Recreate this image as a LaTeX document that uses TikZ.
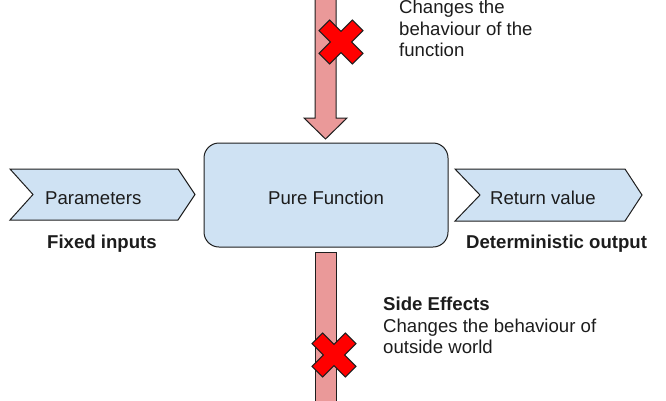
\documentclass[tikz,border=0pt]{standalone}
\usepackage{fontspec}
\setmainfont{Liberation Sans}
\definecolor{pinkfill}{HTML}{EA9999}
\definecolor{bluefill}{HTML}{CFE2F3}
\definecolor{crossred}{HTML}{FF0000}
\definecolor{edgec}{HTML}{1E1E1E}
\definecolor{textc}{HTML}{1C1C1C}
\begin{document}
\begin{tikzpicture}[x=1pt,y=-1pt,
  outline/.style={draw=edgec, line width=1pt, line join=miter},
  arrowshape/.style={outline, fill=pinkfill},
  chevron/.style={outline, fill=bluefill},
  crossshape/.style={outline, fill=crossred},
  txt/.style={inner sep=0pt, anchor=base west, text=textc, font=\fontsize{18.6}{22}\selectfont},
  btxt/.style={txt, font=\fontsize{18.6}{22}\selectfont\bfseries}]
\useasboundingbox (0,0) rectangle (666,400);

% pink arrows
\draw[arrowshape] (315,-3) -- (315,118) -- (304,118) -- (325.5,139) -- (347,118) -- (336,118) -- (336,-3) -- cycle;
\draw[arrowshape] (315,252) rectangle (336,404);

% main box
\node[outline, fill=bluefill, rounded corners=15pt, minimum width=244pt, minimum height=104pt, inner sep=0pt] (pf) at (326,195) {};
\node[txt, anchor=base] (pft) at (pf.center |- 0,204.5) {Pure Function};

% chevrons
\draw[chevron] (10,169) -- (178,169) -- (195,194.5) -- (178,220) -- (10,220) -- (33,194.5) -- cycle;
\draw[chevron] (455,169) -- (625,169) -- (642,195) -- (625,221) -- (455,221) -- (480,195) -- cycle;
\node[txt] (par) at (45,204.5) {Parameters};
\node[txt] (ret) at (490,204.5) {Return value};
\node[btxt] (fix) at (47,248) {Fixed inputs};
\node[btxt] (det) at (466,248) {Deterministic output};

% crosses
\foreach \cx/\cy in {341/42, 334/355} {
  \draw[crossshape, shift={(\cx,\cy)}] (0,-10.6) -- (11.4,-22) -- (22,-11.4) -- (10.6,0) -- (22,11.4) -- (11.4,22) -- (0,10.6) -- (-11.4,22) -- (-22,11.4) -- (-10.6,0) -- (-22,-11.4) -- (-11.4,-22) -- cycle;
}

% top text
\node[txt] (t1) at (399,13) {Changes the};
\node[txt] (t2) at (399,35) {behaviour of the};
\node[txt] (t3) at (399,56) {function};

% bottom text
\node[btxt] (s0) at (383,310) {Side Effects};
\node[txt] (s1) at (383,332) {Changes the behaviour of};
\node[txt] (s2) at (383,353) {outside world};
\end{tikzpicture}
\end{document}
